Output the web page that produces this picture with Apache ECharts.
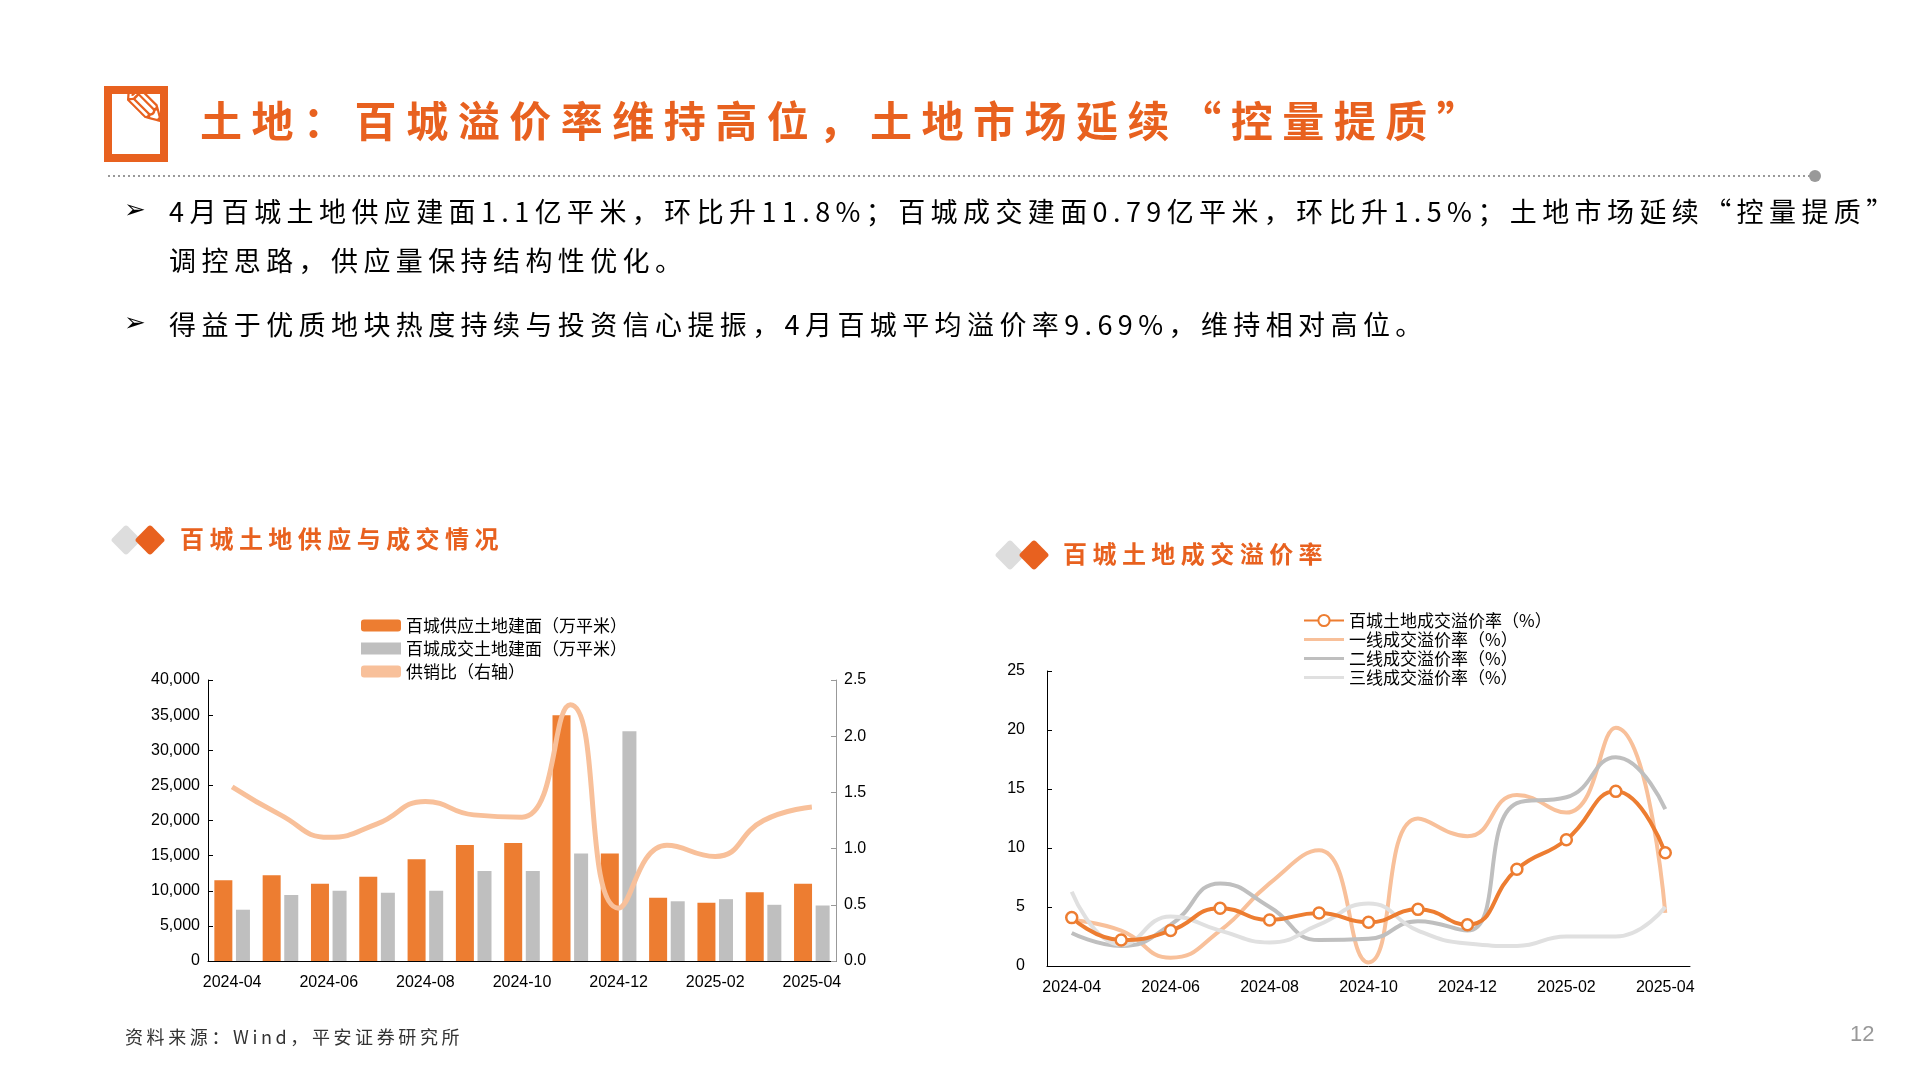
<!DOCTYPE html>
<html><head><meta charset="utf-8">
<script src="https://cdn.jsdelivr.net/npm/echarts@6/dist/echarts.min.js"></script>
<style>html,body{margin:0;padding:0;background:#fff}#c{width:1920px;height:1080px}</style>
</head><body><div id="c"></div>
<script>
const months = ['2024-04','2024-05','2024-06','2024-07','2024-08','2024-09','2024-10','2024-11','2024-12','2025-01','2025-02','2025-03','2025-04'];
const supplyArea = [11500,12200,11000,12000,14500,16500,16800,35000,15300,9000,8300,9800,11000];
const dealArea = [7300,9400,10000,9700,10000,12800,12800,15300,32700,8500,8800,8000,7900];
const supplyRatio = [1.55,1.3,1.1,1.22,1.42,1.3,1.28,2.28,0.47,1.03,0.93,1.25,1.37];
const premiumAll = [4.1,2.2,3.0,4.9,3.9,4.5,3.7,4.8,3.5,8.2,10.7,14.8,9.6];
const premiumT1 = [3.9,3.0,0.7,3.0,7.0,9.8,0.3,12.5,11.0,14.5,13.0,20.2,4.5];
const premiumT2 = [2.8,1.7,3.5,7.0,5.0,2.2,2.3,3.8,3.0,13.8,14.3,17.7,13.3];
const premiumT3 = [6.3,1.8,4.2,3.0,2.0,3.5,5.3,3.0,1.9,1.7,2.5,2.5,5.0];

const OR='#E8611F', BAR='#ED7D31', GR='#BFBFBF', LO='#F8C09A', LG='#E0E0E0';
const FF='"Noto Sans CJK SC","Noto Sans",sans-serif';
const sp=(s,c)=>s.split('').join(c);
const chart = echarts.init(document.getElementById('c'));
const axisTxt = {color:'#000',fontSize:16,fontFamily:'Liberation Sans, Arial'};
const graphic=[
 {type:'rect',shape:{x:108,y:90,width:56,height:68},style:{fill:'none',stroke:OR,lineWidth:8}},
 {type:'text',x:122,y:84,style:{text:'✎',font:'bold 56px DejaVu Sans',fill:OR}},
 {type:'text',x:200,y:100,style:{text:sp('土地：百城溢价率维持高位，土地市场延续“控量提质”',' '),font:'bold 42px '+FF,fill:OR}},
 {type:'line',shape:{x1:108,y1:176,x2:1812,y2:176},style:{stroke:'#999',lineWidth:2,lineDash:[2,3]}},
 {type:'circle',shape:{cx:1815,cy:176,r:6},style:{fill:'#999'}},
 {type:'text',x:124,y:198,style:{text:'➢',font:'bold 26px DejaVu Sans',fill:'#000'}},
 {type:'text',x:169,y:198,style:{text:sp('4月百城土地供应建面1.1亿平米，环比升11.8%；百城成交建面0.79亿平米，环比升1.5%；土地市场延续“控量提质”','\u2009'),font:'27px '+FF,fill:'#000'}},
 {type:'text',x:169,y:247,style:{text:sp('调控思路，供应量保持结构性优化。','\u2009'),font:'27px '+FF,fill:'#000'}},
 {type:'text',x:124,y:311,style:{text:'➢',font:'bold 26px DejaVu Sans',fill:'#000'}},
 {type:'text',x:169,y:311,style:{text:sp('得益于优质地块热度持续与投资信心提振，4月百城平均溢价率9.69%，维持相对高位。','\u2009'),font:'27px '+FF,fill:'#000'}},
 {type:'rect',x:126,y:540,shape:{x:-11,y:-11,width:22,height:22,r:3},rotation:Math.PI/4,style:{fill:'#DDDDDD'}},
 {type:'rect',x:150,y:540,shape:{x:-11,y:-11,width:22,height:22,r:3},rotation:Math.PI/4,style:{fill:OR}},
 {type:'text',x:180,y:527,style:{text:sp('百城土地供应与成交情况',' '),font:'bold 24px '+FF,fill:OR}},
 {type:'rect',x:1010,y:555,shape:{x:-11,y:-11,width:22,height:22,r:3},rotation:Math.PI/4,style:{fill:'#DDDDDD'}},
 {type:'rect',x:1034,y:555,shape:{x:-11,y:-11,width:22,height:22,r:3},rotation:Math.PI/4,style:{fill:OR}},
 {type:'text',x:1063,y:542,style:{text:sp('百城土地成交溢价率',' '),font:'bold 24px '+FF,fill:OR}},
 {type:'text',x:125,y:1028,style:{text:sp('资料来源：Wind，平安证券研究所','\u2009'),font:'18px '+FF,fill:'#333'}},
 {type:'text',x:1850,y:1024,style:{text:'12',font:'22px Liberation Sans',fill:'#999'}}
];
chart.setOption({
 animation:false,
 textStyle:{fontFamily:FF},
 graphic:graphic,
 legend:[
  {left:356,top:612,orient:'vertical',itemGap:6,itemWidth:40,itemHeight:12,textStyle:{fontSize:17,color:'#000'},
   data:[{name:'百城供应土地建面（万平米）',icon:'roundRect'},{name:'百城成交土地建面（万平米）',icon:'rect'},{name:'供销比（右轴）',icon:'roundRect'}]},
  {left:1298,top:607,orient:'vertical',itemGap:2,itemWidth:40,itemHeight:14,textStyle:{fontSize:17,color:'#000'},
   data:['百城土地成交溢价率（%）',
     {name:'一线成交溢价率（%）',icon:'path://M0,6h40v3h-40z'},
     {name:'二线成交溢价率（%）',icon:'path://M0,6h40v3h-40z'},
     {name:'三线成交溢价率（%）',icon:'path://M0,6h40v3h-40z'}]}
 ],
 grid:[
  {left:208,top:680,width:628,height:281},
  {left:1047,top:671,width:643,height:295}
 ],
 xAxis:[
  {type:'category',gridIndex:0,data:months,axisTick:{show:false},axisLine:{lineStyle:{color:'#000'}},axisLabel:Object.assign({interval:1,margin:14},axisTxt)},
  {type:'category',gridIndex:1,data:months,axisTick:{show:false},axisLine:{lineStyle:{color:'#000'}},axisLabel:Object.assign({interval:1,margin:14},axisTxt)}
 ],
 yAxis:[
  {type:'value',gridIndex:0,min:0,max:40000,interval:5000,splitLine:{show:false},axisLine:{show:true,lineStyle:{color:'#000'}},axisTick:{show:true,length:5,inside:true},
   axisLabel:Object.assign({formatter:v=>v.toLocaleString('en-US')},axisTxt)},
  {type:'value',gridIndex:0,position:'right',min:0,max:2.5,interval:0.5,splitLine:{show:false},axisLine:{show:true,lineStyle:{color:'#999'}},axisTick:{show:true,length:5,inside:true},
   axisLabel:Object.assign({formatter:v=>v.toFixed(1)},axisTxt)},
  {type:'value',gridIndex:1,min:0,max:25,interval:5,splitLine:{show:false},axisLine:{show:true,lineStyle:{color:'#000'}},axisTick:{show:true,length:5,inside:true},axisLabel:Object.assign({margin:22},axisTxt)}
 ],
 series:[
  {name:'百城供应土地建面（万平米）',type:'bar',xAxisIndex:0,yAxisIndex:0,data:supplyArea,itemStyle:{color:BAR},barWidth:18,barGap:'20%'},
  {name:'百城成交土地建面（万平米）',type:'bar',xAxisIndex:0,yAxisIndex:0,data:dealArea,itemStyle:{color:GR},barWidth:14},
  {name:'供销比（右轴）',type:'line',xAxisIndex:0,yAxisIndex:1,data:supplyRatio,smooth:0.5,symbol:'none',lineStyle:{color:LO,width:5},itemStyle:{color:LO}},
  {name:'一线成交溢价率（%）',type:'line',xAxisIndex:1,yAxisIndex:2,data:premiumT1,smooth:0.5,symbol:'none',lineStyle:{color:LO,width:4},itemStyle:{color:LO}},
  {name:'二线成交溢价率（%）',type:'line',xAxisIndex:1,yAxisIndex:2,data:premiumT2,smooth:0.5,symbol:'none',lineStyle:{color:GR,width:4},itemStyle:{color:GR}},
  {name:'三线成交溢价率（%）',type:'line',xAxisIndex:1,yAxisIndex:2,data:premiumT3,smooth:0.5,symbol:'none',lineStyle:{color:LG,width:4},itemStyle:{color:LG}},
  {name:'百城土地成交溢价率（%）',type:'line',xAxisIndex:1,yAxisIndex:2,data:premiumAll,smooth:0.5,symbol:'circle',symbolSize:11,
   lineStyle:{color:BAR,width:4},itemStyle:{color:'#fff',borderColor:BAR,borderWidth:2.5},z:5}
 ]
});
</script></body></html>
